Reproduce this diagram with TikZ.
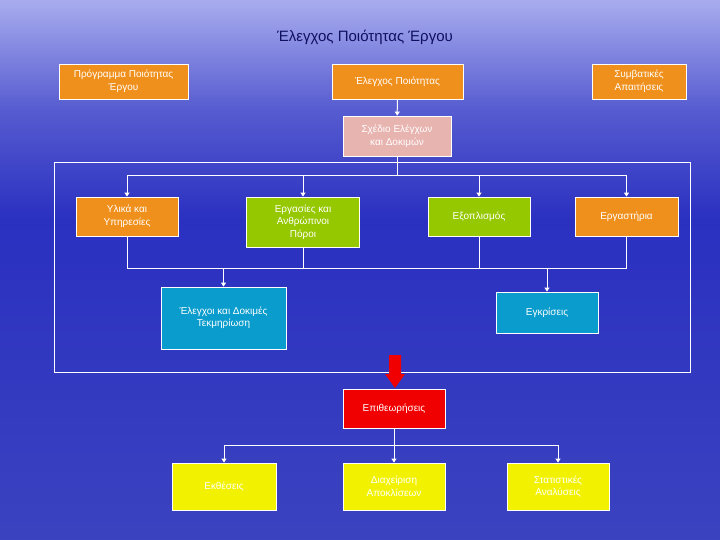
\documentclass[tikz,border=0pt]{standalone}
\usepackage{fontspec}
\setmainfont{Liberation Sans}
\usetikzlibrary{arrows.meta}
\definecolor{bgtop}{HTML}{A8ACEE}
\definecolor{bgmid}{HTML}{2A30C0}
\definecolor{bgbot}{HTML}{2830B8}
\definecolor{orng}{HTML}{F0901C}
\definecolor{grn}{HTML}{96C800}
\definecolor{cyanb}{HTML}{0A9CCC}
\definecolor{pinkb}{HTML}{E8B4B0}
\definecolor{redb}{HTML}{F00000}
\definecolor{yel}{HTML}{F2F200}
\definecolor{navy}{HTML}{101060}
\begin{document}
\begin{tikzpicture}[x=1pt,y=-1pt,
 bx/.style={draw=white,line width=0.8pt,text=white,align=center,font=\fontsize{10}{12.5}\selectfont,inner sep=1pt},
 ln/.style={draw=white,line width=1pt},
 ar/.style={ln,-{Triangle[width=5pt,length=4pt]}}]
\useasboundingbox (0,0) rectangle (720,540);
\shade[top color=bgtop,bottom color=bgmid,middle color=bgmid!65!bgtop] (0,0) rectangle (720,220);
\shade[top color=bgmid,bottom color=bgbot!85!bgtop] (0,220) rectangle (720,540);
\node[text=navy,font=\fontsize{15}{17}\selectfont] (title) at (365,37) {Έλεγχος Ποιότητας Έργου};
\node[bx,fill=orng,minimum width=129pt,minimum height=35pt] (pp) at (123.5,81.5) {Πρόγραμμα Ποιότητας\\Έργου};
\node[bx,fill=orng,minimum width=131pt,minimum height=35pt] (ep) at (397.5,81.5) {Έλεγχος Ποιότητας};
\node[bx,fill=orng,minimum width=94pt,minimum height=35pt] (sa) at (639,81.5) {Συμβατικές\\Απαιτήσεις};
\node[bx,fill=pinkb,minimum width=108pt,minimum height=40pt] (sx) at (397,136) {Σχέδιο Ελέγχων\\και Δοκιμών};
\draw[white,line width=0.8pt] (54,162) rectangle (690,372);
\node[bx,fill=orng,minimum width=102pt,minimum height=39pt] (yl) at (127,216.5) {Υλικά και\\Υπηρεσίες};
\node[bx,fill=grn,minimum width=113pt,minimum height=50pt] (er) at (303,222) {Εργασίες και\\Ανθρώπινοι\\Πόροι};
\node[bx,fill=grn,minimum width=102pt,minimum height=39pt] (ex) at (479,216.5) {Εξοπλισμός};
\node[bx,fill=orng,minimum width=103pt,minimum height=39pt] (eg) at (626.5,216.5) {Εργαστήρια};
\node[bx,fill=cyanb,minimum width=125pt,minimum height=62pt] (ed) at (223.5,318) {Έλεγχοι και Δοκιμές\\Τεκμηρίωση};
\node[bx,fill=cyanb,minimum width=102pt,minimum height=41pt] (ek) at (547,312.5) {Εγκρίσεις};
\node[bx,fill=redb,minimum width=102pt,minimum height=39pt] (ept) at (394,408.5) {Επιθεωρήσεις};
\node[bx,fill=yel,minimum width=104pt,minimum height=47pt] (ek1) at (224,486.5) {Εκθέσεις};
\node[bx,fill=yel,minimum width=102pt,minimum height=47pt] (dk) at (394,486.5) {Διαχείριση\\Αποκλίσεων};
\node[bx,fill=yel,minimum width=102pt,minimum height=47pt] (st) at (558,486.5) {Στατιστικές\\Αναλύσεις};
\coordinate (b1) at (397,176);
\coordinate (b2) at (397,268);
\coordinate (b3) at (394,445);
\draw[ar] (ep) -- (sx);
\draw[ln] (sx) -- (b1);
\draw[ln] (yl.north |- b1) -- (eg.north |- b1);
\foreach \n in {yl,er,ex,eg} \draw[ar] (\n.north |- b1) -- (\n.north);
\foreach \n in {yl,er,ex,eg} \draw[ln] (\n.south) -- (\n.south |- b2);
\draw[ln] (yl.south |- b2) -- (eg.south |- b2);
\draw[ar] (ed.north |- b2) -- (ed.north);
\draw[ar] (ek.north |- b2) -- (ek.north);
\draw[fill=redb,draw=none] (389,355) -- (401,355) -- (401,374) -- (405,374) -- (395,388) -- (385,374) -- (389,374) -- cycle;
\draw[ln] (ept) -- (b3);
\draw[ln] (ek1.north |- b3) -- (st.north |- b3);
\foreach \n in {ek1,dk,st} \draw[ar] (\n.north |- b3) -- (\n.north);
\end{tikzpicture}
\end{document}
